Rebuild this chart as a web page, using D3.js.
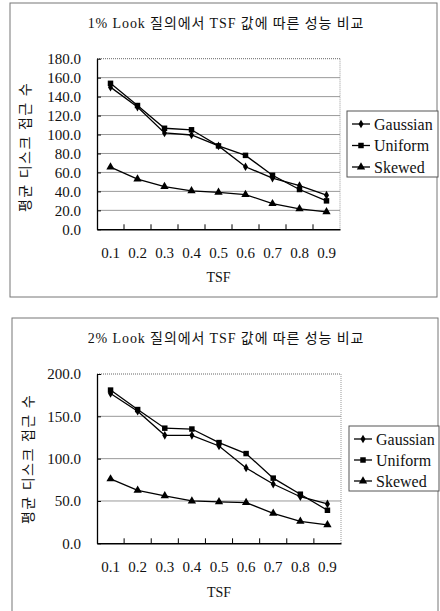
<!DOCTYPE html>
<html><head><meta charset="utf-8">
<script src="https://cdn.jsdelivr.net/npm/d3@7"></script>
<style>
html,body{margin:0;padding:0;background:#fff;}
</style></head>
<body>
<svg id="c" width="440" height="611"></svg>
<script>
const categories = ["0.1","0.2","0.3","0.4","0.5","0.6","0.7","0.8","0.9"];
const seriesNames = ["Gaussian","Uniform","Skewed"];

const title1 = "1% Look 질의에서 TSF 값에 따른 성능 비교";
const gaussian1 = [150, 129, 101.7, 99.5, 88, 66, 54, 46, 36];
const uniform1  = [154, 130.6, 106.6, 105, 88, 78, 57, 42, 30];
const skewed1   = [65.6, 53, 45, 40.6, 39, 36.7, 27, 21.5, 18.4];
const yTicks1 = [0,20,40,60,80,100,120,140,160,180];

const title2 = "2% Look 질의에서 TSF 값에 따른 성능 비교";
const gaussian2 = [177, 156, 127.6, 127.6, 115, 89, 70, 55, 46.5];
const uniform2  = [181, 158, 136, 135, 119, 106, 77, 58, 39];
const skewed2   = [76, 62.6, 56, 50, 49, 48, 35.4, 26, 21.7];
const yTicks2 = [0,50,100,150,200];

const yTitle = "평균 디스크 접근 수";
const xTitle = "TSF";

const FONT = "'Liberation Serif','DejaVu Serif','Noto Sans CJK KR',serif";
const svg = d3.select("#c");

function markerPath(type){
  if(type===0) return d3.symbol(d3.symbolDiamond, 22)();
  if(type===1) return d3.symbol(d3.symbolSquare, 30)();
  return d3.symbol(d3.symbolTriangle, 30)();
}

function drawChart(cfg){
  const g = svg.append("g");
  g.append("rect").attr("x",cfg.frame[0]).attr("y",cfg.frame[1])
    .attr("width",cfg.frame[2]-cfg.frame[0]).attr("height",cfg.frame[3]-cfg.frame[1])
    .attr("fill","none").attr("stroke","#777").attr("stroke-width",1);
  g.append("text").attr("x",cfg.titleX).attr("y",cfg.titleY)
    .attr("text-anchor","middle").attr("dominant-baseline","central")
    .attr("font-family",FONT).attr("font-size",14).style("letter-spacing","0.9px")
    .attr("fill","#111").text(cfg.title);

  const x = d3.scaleBand().domain(categories).range([cfg.left, cfg.right]);
  const y = d3.scaleLinear().domain([0, d3.max(cfg.yTicks)]).range([cfg.bottom, cfg.top]);

  g.append("g").selectAll("line").data(cfg.yTicks.filter(v=>v>0)).join("line")
    .attr("x1",cfg.left).attr("x2",cfg.right)
    .attr("y1",d=>y(d)).attr("y2",d=>y(d))
    .attr("stroke", d=> d===d3.max(cfg.yTicks) ? "#666" : "#999")
    .attr("stroke-dasharray", d=> d===d3.max(cfg.yTicks) ? "1,1" : null)
    .attr("stroke-width",1);
  g.append("line").attr("x1",cfg.right).attr("x2",cfg.right).attr("y1",cfg.top).attr("y2",cfg.bottom)
    .attr("stroke","#999").attr("stroke-dasharray","1,1");

  const yAxis = d3.axisLeft(y).tickValues(cfg.yTicks).tickFormat(d3.format(".1f")).tickSizeInner(-4).tickSizeOuter(0).tickPadding(16);
  const ya = g.append("g").attr("transform",`translate(${cfg.left},0)`).call(yAxis)
    .attr("font-family",FONT).attr("font-size",15);
  ya.select(".domain").attr("stroke","#000").attr("stroke-width",1.3);
  ya.selectAll(".tick line").attr("stroke","#000");
  ya.selectAll(".tick text").attr("fill","#111");

  const xAxis = d3.axisBottom(x).tickSize(0).tickPadding(18);
  const xa = g.append("g").attr("transform",`translate(0,${cfg.bottom})`).call(xAxis)
    .attr("font-family",FONT).attr("font-size",15);
  xa.select(".domain").attr("stroke","#000").attr("stroke-width",1.5);
  xa.selectAll(".tick text").attr("fill","#111");
  g.append("g").selectAll("line").data(categories.slice(1)).join("line")
    .attr("x1",d=>x(d)).attr("x2",d=>x(d))
    .attr("y1",cfg.bottom).attr("y2",cfg.bottom-5)
    .attr("stroke","#000");

  g.append("text").attr("x",(cfg.left+cfg.right)/2).attr("y",cfg.xTitleY)
    .attr("text-anchor","middle").attr("dominant-baseline","central")
    .attr("font-family",FONT).attr("font-size",14).attr("fill","#111").text(xTitle);
  g.append("text").attr("transform",`translate(${cfg.yTitleX},${cfg.yTitleY}) rotate(-90)`)
    .attr("text-anchor","middle").attr("dominant-baseline","central")
    .attr("font-family",FONT).attr("font-size",14).style("letter-spacing","1.5px")
    .attr("fill","#111").text(yTitle);

  const line = d3.line().x((d,i)=>x(categories[i])+x.bandwidth()/2).y(d=>y(d));
  cfg.series.forEach((vals, si)=>{
    g.append("path").datum(vals).attr("d",line).attr("fill","none")
      .attr("stroke","#000").attr("stroke-width",1.3);
    g.append("g").selectAll("path").data(vals).join("path")
      .attr("transform",(d,i)=>`translate(${x(categories[i])+x.bandwidth()/2},${y(d)})`)
      .attr("d",markerPath(si)).attr("fill","#000");
  });

  const L = cfg.legend;
  g.append("rect").attr("x",L[0]).attr("y",L[1]).attr("width",L[2]-L[0]).attr("height",L[3]-L[1])
    .attr("fill","#fff").attr("stroke","#555");
  const ly = d3.scalePoint().domain(seriesNames).range([L[1]+13, L[3]-10]);
  seriesNames.forEach((name,si)=>{
    const yy = ly(name);
    g.append("line").attr("x1",L[0]+5).attr("x2",L[0]+23).attr("y1",yy).attr("y2",yy)
      .attr("stroke","#000").attr("stroke-width",1.3);
    g.append("path").attr("transform",`translate(${L[0]+14},${yy})`).attr("d",markerPath(si)).attr("fill","#000");
    g.append("text").attr("x",L[0]+27).attr("y",yy).attr("dominant-baseline","central")
      .attr("font-family",FONT).attr("font-size",16).attr("fill","#111").text(name);
  });
}

drawChart({
  frame:[10,3,437,297], title:title1, titleX:226, titleY:23,
  left:97, right:340, top:58.7, bottom:229.3, yTicks:yTicks1,
  xTitleY:277, yTitleX:25, yTitleY:147,
  series:[gaussian1, uniform1, skewed1],
  legend:[347,111,438,177]
});
drawChart({
  frame:[12,318,438,640], title:title2, titleX:226, titleY:338,
  left:97, right:341, top:374, bottom:543.3, yTicks:yTicks2,
  xTitleY:592, yTitleX:28, yTitleY:459,
  series:[gaussian2, uniform2, skewed2],
  legend:[349,426,439,491]
});
</script>
</body></html>
